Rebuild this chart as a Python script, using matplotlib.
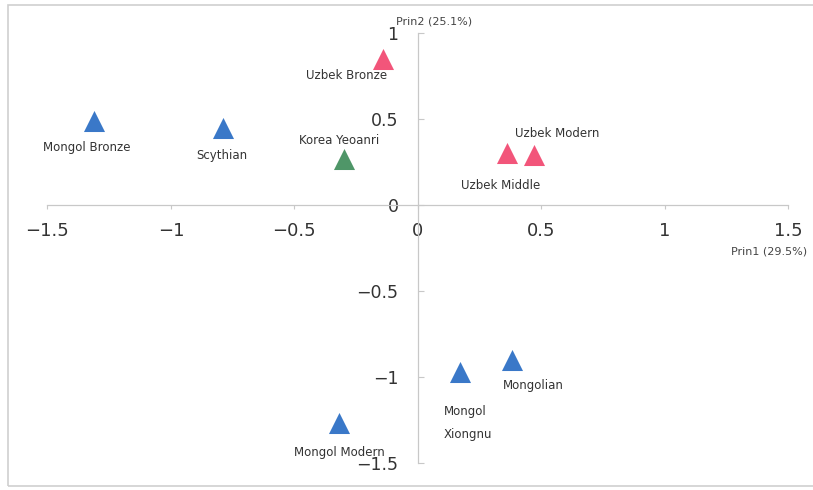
import matplotlib.pyplot as plt
from matplotlib.patches import Rectangle

# PCA scores
names = ['Mongol Bronze', 'Scythian', 'Korea Yeoanri', 'Uzbek Bronze',
         'Uzbek Middle', 'Uzbek Modern', 'Mongolian', 'Mongol\nXiongnu',
         'Mongol Modern']
prin1 = [-1.31, -0.79, -0.30, -0.14, 0.36, 0.47, 0.38, 0.17, -0.32]
prin2 = [0.49, 0.45, 0.27, 0.85, 0.30, 0.29, -0.90, -0.97, -1.27]
groups = ['mongol', 'mongol', 'korea', 'uzbek', 'uzbek', 'uzbek',
          'mongol', 'mongol', 'mongol']
colors = {'mongol': '#3a78c8', 'uzbek': '#f2557a', 'korea': '#4f9668'}

# label offsets in pixels from the marker
offsets = [(-8, -27), (-1, -28), (-5, 18), (-37, -17), (-6, -32),
           (23, 22), (22, -26), (-16, -51), (1, -29)]
aligns = ['center'] * 7 + ['left', 'center']

W, H = 813, 490
fig = plt.figure(figsize=(W / 100, H / 100), dpi=100)
ax = fig.add_axes([20 / W, 10 / H, 780 / W, 465 / H])
ax.set_xlim(-1.611, 1.547)
ax.set_ylim(-1.599, 1.105)

for x, y, g in zip(prin1, prin2, groups):
    ax.scatter(x, y, marker='^', s=230, color=colors[g], zorder=3,
               linewidths=0)

for n, x, y, off, ha in zip(names, prin1, prin2, offsets, aligns):
    ax.annotate(n, (x, y), xytext=off, textcoords='offset pixels',
                ha=ha, va='center', fontsize=8.5, color='#333333',
                linespacing=2.0)

for s in ['top', 'right']:
    ax.spines[s].set_visible(False)
ax.spines['left'].set_position(('data', 0))
ax.spines['bottom'].set_position(('data', 0))
ax.spines['left'].set_bounds(-1.5, 1)
ax.spines['bottom'].set_bounds(-1.5, 1.5)
for s in ['left', 'bottom']:
    ax.spines[s].set_color('#c8c8c8')
    ax.spines[s].set_linewidth(0.9)

ax.set_xticks([-1.5, -1, -0.5, 0, 0.5, 1, 1.5])
ax.set_xticklabels(['\u22121.5', '\u22121', '\u22120.5', '0', '0.5', '1', '1.5'])
ax.set_yticks([-1.5, -1, -0.5, 0, 0.5, 1])
ax.set_yticklabels(['\u22121.5', '\u22121', '\u22120.5', '0', '0.5', '1'])
ax.tick_params(axis='x', direction='out', length=3, color='#c8c8c8',
               labelsize=13, labelcolor='#333333', pad=9)
ax.tick_params(axis='y', direction='in', length=4, color='#c8c8c8',
               labelsize=12.5, labelcolor='#333333', pad=14)
ax.patch.set_alpha(0)

fig.text(769 / W, 1 - 252 / H, 'Prin1 (29.5%)', ha='center', va='center',
         fontsize=8, color='#444444')
fig.text(434 / W, 1 - 21 / H, 'Prin2 (25.1%)', ha='center', va='center',
         fontsize=8, color='#444444')

fig.patches.append(Rectangle((8 / W, 4 / H), 820 / W, 481 / H,
                             transform=fig.transFigure, fill=False,
                             edgecolor='#cfcfcf', linewidth=1.2))

fig.savefig('out.png', dpi=100)
